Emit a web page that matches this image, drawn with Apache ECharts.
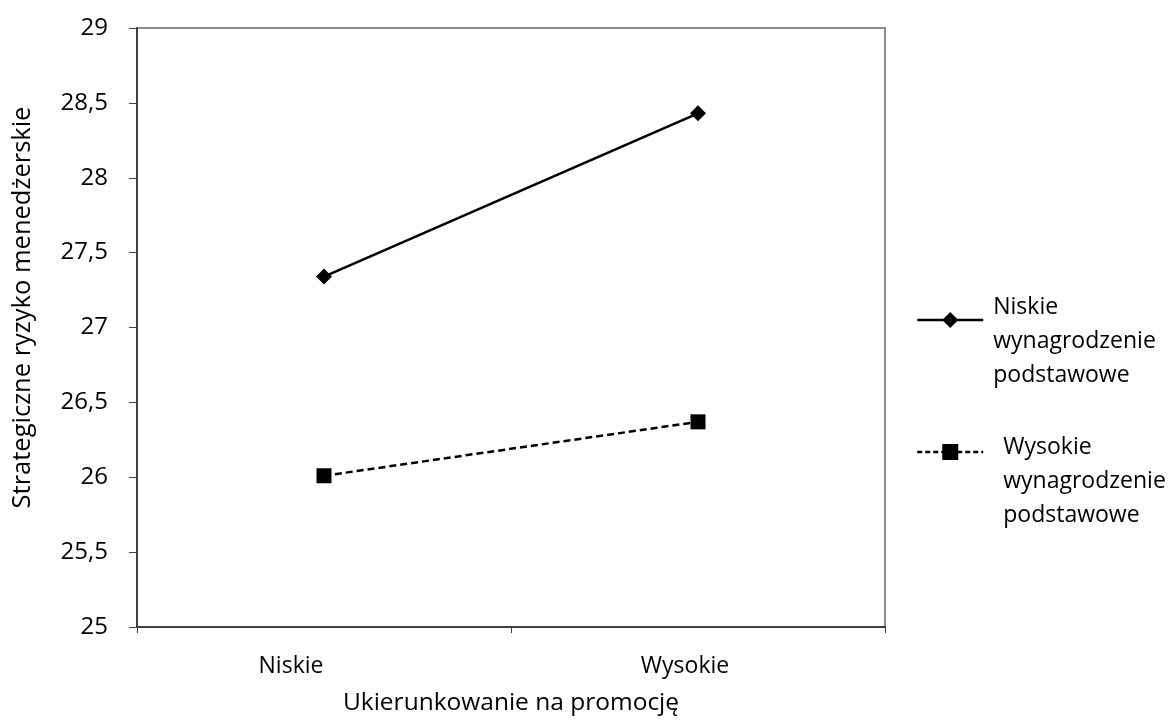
<!DOCTYPE html>
<html><head><meta charset="utf-8">
<script src="https://cdn.jsdelivr.net/npm/echarts@6/dist/echarts.min.js"></script>
<style>html,body{margin:0;padding:0;background:#fff}#c{width:1170px;height:720px}</style>
</head><body><div id="c"></div>
<script>
var categories = ['Niskie', 'Wysokie'];
var seriesNames = ['Niskie\nwynagrodzenie\npodstawowe', 'Wysokie\nwynagrodzenie\npodstawowe'];
var lowBase = [27.34, 28.43];
var highBase = [26.01, 26.37];
var yTicks = [25, 25.5, 26, 26.5, 27, 27.5, 28, 28.5, 29];
var xTitle = 'Ukierunkowanie na promocję';
var yTitle = 'Strategiczne ryzyko menedżerskie';

var FONT = '"Open Sans", sans-serif';
function legendFmt(spacer) {
  return function (name) {
    return '{' + spacer + '| }\n' + name.split('\n').map(function (l) { return '{t|' + l + '}'; }).join('\n');
  };
}
var legendRich = {
  s: { height: 42, lineHeight: 42, fontSize: 10 },
  u: { height: 58, lineHeight: 58, fontSize: 10 },
  t: { fontSize: 23, lineHeight: 34, color: '#000', fontFamily: FONT }
};
var chart = echarts.init(document.getElementById('c'));
chart.setOption({
  animation: false,
  textStyle: { fontFamily: FONT, color: '#000' },
  grid: { left: 137, right: 285, top: 28, bottom: 93, containLabel: false, outerBoundsMode: 'none',
    show: true, borderColor: '#8c8c8c', borderWidth: 2, backgroundColor: 'transparent' },
  xAxis: {
    type: 'category', data: categories, boundaryGap: true,
    name: xTitle, nameLocation: 'middle', nameGap: 64,
    nameTextStyle: { fontSize: 24.5, color: '#000', fontFamily: FONT },
    axisLine: { show: true, lineStyle: { color: '#404040', width: 2 } },
    axisTick: { show: true, length: 6, lineStyle: { color: '#404040', width: 1 } },
    axisLabel: { color: '#000', margin: 28, fontFamily: FONT,
      formatter: function (v) { return v === categories[0] ? '{a|' + v + '}' : '{b|' + v + '}'; },
      rich: {
        a: { fontSize: 23, fontFamily: FONT, color: '#000', padding: [0, 66, 0, 0] },
        b: { fontSize: 23, fontFamily: FONT, color: '#000', padding: [0, 26, 0, 0] }
      } },
    splitLine: { show: false }
  },
  yAxis: {
    type: 'value', min: 25, max: 29, interval: 0.5,
    name: yTitle, nameLocation: 'middle', nameGap: 101, nameRotate: 90,
    nameTextStyle: { fontSize: 25.5, color: '#000', fontFamily: FONT, padding: [0, 0, 0, 40] },
    axisLine: { show: true, lineStyle: { color: '#404040', width: 2 } },
    axisTick: { show: true, length: 8, lineStyle: { color: '#404040', width: 1 } },
    axisLabel: { fontSize: 24, color: '#000', margin: 29, fontFamily: FONT,
      formatter: function (v) { return String(v).replace('.', ','); } },
    splitLine: { show: false }
  },
  legend: [
    { data: [seriesNames[0]], orient: 'vertical', left: 911, top: 243, itemWidth: 66, itemHeight: 20,
      formatter: legendFmt('s'), textStyle: { padding: [0, 0, 0, 5], rich: legendRich },
      lineStyle: { width: 2.5 } },
    { data: [seriesNames[1]], orient: 'vertical', left: 911, top: 367, itemWidth: 66, itemHeight: 20,
      formatter: legendFmt('u'), textStyle: { padding: [0, 0, 0, 15], rich: legendRich },
      lineStyle: { type: [5, 3], width: 2.5 } }
  ],
  series: [
    { name: seriesNames[0], type: 'line', data: lowBase, symbol: 'diamond', symbolSize: 16,
      itemStyle: { color: '#000' }, lineStyle: { color: '#000', width: 2.5, type: 'solid' } },
    { name: seriesNames[1], type: 'line', data: highBase, symbol: 'rect', symbolSize: 15,
      itemStyle: { color: '#000' }, lineStyle: { color: '#000', width: 2.5, type: [7, 4] } }
  ]
});
</script></body></html>
